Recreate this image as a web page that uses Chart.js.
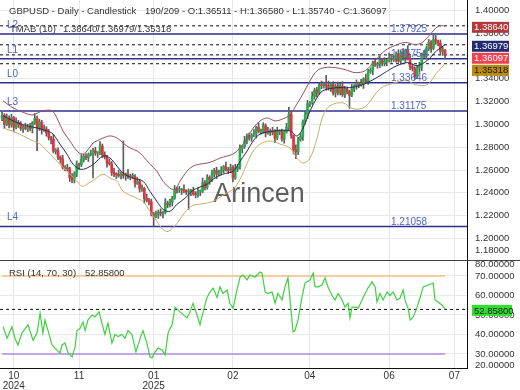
<!DOCTYPE html>
<html>
<head>
<meta charset="utf-8">
<script src="https://cdn.jsdelivr.net/npm/chart.js@4.4.1/dist/chart.umd.min.js"></script>
<style>
  html, body { margin: 0; padding: 0; background: #fff; }
  #wrap { position: relative; width: 520px; height: 390px; overflow: hidden; }
  canvas { position: absolute; left: 0; }
  #priceCv { top: 0; }
  #rsiCv { top: 260px; }
</style>
</head>
<body>
<div id="wrap">
  <canvas id="priceCv" width="520" height="260"></canvas>
  <canvas id="rsiCv" width="520" height="130"></canvas>
</div>
<script>
// candles, one per trading day (index 0 = first bar on the left)
const opens = [1.3050,1.3080,1.3000,1.3056,1.2998,1.3060,1.2975,1.3017,1.2998,1.2965,
1.2977,1.2965,1.2980,1.2965,1.3015,1.3055,1.2965,1.3020,1.2950,1.2960,
1.2925,1.2885,1.2870,1.2765,1.2770,1.2710,1.2695,1.2620,1.2620,1.2610,
1.2535,1.2515,1.2565,1.2650,1.2645,1.2695,1.2720,1.2710,1.2735,1.2740,
1.2770,1.2750,1.2750,1.2810,1.2735,1.2715,1.2660,1.2655,1.2580,1.2565,
1.2560,1.2550,1.2565,1.2550,1.2565,1.2540,1.2545,1.2545,1.2485,1.2500,
1.2435,1.2440,1.2350,1.2335,1.2320,1.2215,1.2195,1.2205,1.2230,1.2220,
1.2230,1.2310,1.2295,1.2320,1.2355,1.2430,1.2425,1.2425,1.2430,1.2415,
1.2410,1.2410,1.2415,1.2390,1.2385,1.2415,1.2415,1.2490,1.2450,1.2535,
1.2510,1.2565,1.2595,1.2565,1.2580,1.2600,1.2630,1.2605,1.2595,1.2625,
1.2530,1.2615,1.2630,1.2790,1.2805,1.2855,1.2900,1.2880,1.2905,1.2920,
1.2975,1.2940,1.2940,1.2990,1.2925,1.2940,1.2930,1.2945,1.2880,1.2935,
1.2935,1.2870,1.2935,1.2975,1.3090,1.2900,1.2780,1.2760,1.2870,1.2895,
1.3025,1.3090,1.3180,1.3190,1.3245,1.3300,1.3275,1.3345,1.3340,1.3350,
1.3340,1.3315,1.3350,1.3275,1.3335,1.3280,1.3335,1.3260,1.3305,1.3285,
1.3255,1.3315,1.3330,1.3360,1.3350,1.3355,1.3400,1.3375,1.3465,1.3470,
1.3540,1.3520,1.3525,1.3565,1.3535,1.3555,1.3560,1.3585,1.3570,1.3580,
1.3620,1.3555,1.3625,1.3585,1.3650,1.3580,1.3505,1.3490,1.3415,1.3495,
1.3510,1.3610,1.3600,1.3665,1.3720,1.3665,1.3745,1.3730,1.3710,1.3640,
1.36511];
const highs = [1.3105,1.3095,1.3091,1.3076,1.3090,1.3070,1.3057,1.3035,1.3023,1.2992,
1.3012,1.3000,1.3010,1.3025,1.3095,1.3073,1.3045,1.3035,1.2995,1.2980,
1.2955,1.2895,1.2910,1.2788,1.2795,1.2725,1.2730,1.2640,1.2650,1.2625,
1.2570,1.2585,1.2680,1.2660,1.2735,1.2738,1.2745,1.2750,1.2775,1.2790,
1.2800,1.2760,1.2850,1.2828,1.2760,1.2730,1.2695,1.2675,1.2615,1.2575,
1.2600,1.2585,1.2855,1.2575,1.2605,1.2563,1.2570,1.2560,1.2535,1.2520,
1.2470,1.2450,1.2390,1.2353,1.2345,1.2230,1.2240,1.2250,1.2260,1.2240,
1.2350,1.2328,1.2345,1.2370,1.2465,1.2450,1.2455,1.2440,1.2470,1.2428,
1.2435,1.2430,1.2450,1.2410,1.2445,1.2425,1.2530,1.2508,1.2560,1.2550,
1.2600,1.2615,1.2625,1.2600,1.2630,1.2640,1.2670,1.2623,1.2650,1.2640,
1.2650,1.2650,1.2820,1.2815,1.2895,1.2918,1.2925,1.2920,1.2955,1.2985,
1.3015,1.2958,1.3015,1.3005,1.2975,1.2960,1.2975,1.2955,1.2975,1.2953,
1.2960,1.2950,1.3010,1.3150,1.3120,1.2910,1.2820,1.2888,1.2920,1.3040,
1.3110,1.3210,1.3200,1.3285,1.3318,1.3325,1.3360,1.3380,1.3370,1.3430,
1.3380,1.3368,1.3375,1.3350,1.3370,1.3365,1.3375,1.3335,1.3330,1.3300,
1.3350,1.3350,1.3390,1.3370,1.3395,1.3410,1.3440,1.3483,1.3495,1.3555,
1.3575,1.3545,1.3595,1.3575,1.3585,1.3570,1.3625,1.3603,1.3605,1.3635,
1.3655,1.3645,1.3665,1.3660,1.3690,1.3598,1.3530,1.3505,1.3515,1.3545,
1.3625,1.3650,1.3683,1.3745,1.3735,1.3790,1.3780,1.3740,1.3740,1.3676,
1.36580];
const lows = [1.3032,1.2965,1.2988,1.2970,1.2976,1.2935,1.2960,1.2973,1.2947,1.2930,
1.2953,1.2937,1.2943,1.2925,1.3000,1.2770,1.2947,1.2915,1.2938,1.2897,
1.2863,1.2830,1.2750,1.2740,1.2692,1.2660,1.2608,1.2592,1.2592,1.2500,
1.2490,1.2487,1.2543,1.2605,1.2630,1.2670,1.2692,1.2675,1.2723,1.2530,
1.2728,1.2710,1.2735,1.2710,1.2697,1.2625,1.2643,1.2552,1.2543,1.2525,
1.2538,1.2522,1.2528,1.2510,1.2525,1.2515,1.2527,1.2450,1.2473,1.2407,
1.2413,1.2310,1.2320,1.2295,1.2197,1.2106,1.2183,1.2177,1.2198,1.2180,
1.2215,1.2270,1.2277,1.2285,1.2343,1.2397,1.2403,1.2385,1.2400,1.2385,
1.2255,1.2375,1.2378,1.2357,1.2363,1.2375,1.2400,1.2425,1.2432,1.2475,
1.2498,1.2537,1.2525,1.2550,1.2558,1.2575,1.2590,1.2570,1.2577,1.2495,
1.2518,1.2587,1.2608,1.2750,1.2790,1.2830,1.2862,1.2852,1.2893,1.2880,
1.2925,1.2915,1.2922,1.2890,1.2913,1.2902,1.2908,1.2840,1.2865,1.2910,
1.2852,1.2835,1.2923,1.2947,1.2878,1.2740,1.2700,1.2735,1.2852,1.2860,
1.3003,1.3050,1.3155,1.3175,1.3220,1.3240,1.3263,1.3312,1.3318,1.3300,
1.3300,1.3290,1.3257,1.3240,1.3258,1.3258,1.3245,1.3235,1.3267,1.3140,
1.3243,1.3287,1.3308,1.3322,1.3335,1.3315,1.3360,1.3350,1.3447,1.3435,
1.3508,1.3492,1.3497,1.3513,1.3513,1.3515,1.3545,1.3545,1.3552,1.3545,
1.3543,1.3527,1.3563,1.3545,1.3565,1.3480,1.3468,1.3395,1.3400,1.3455,
1.3470,1.3585,1.3575,1.3647,1.3630,1.3653,1.3702,1.3690,1.3615,1.3605,
1.35740];
const closes = [1.3080,1.3000,1.3056,1.2998,1.3060,1.2975,1.3017,1.2998,1.2965,1.2977,
1.2965,1.2980,1.2965,1.3015,1.3055,1.2965,1.3020,1.2950,1.2960,1.2925,
1.2885,1.2870,1.2765,1.2770,1.2710,1.2695,1.2620,1.2620,1.2610,1.2535,
1.2515,1.2565,1.2650,1.2645,1.2695,1.2720,1.2710,1.2735,1.2740,1.2770,
1.2750,1.2750,1.2810,1.2735,1.2715,1.2660,1.2655,1.2580,1.2565,1.2560,
1.2550,1.2565,1.2550,1.2565,1.2540,1.2545,1.2545,1.2485,1.2500,1.2435,
1.2440,1.2350,1.2335,1.2320,1.2215,1.2195,1.2205,1.2230,1.2220,1.2230,
1.2310,1.2295,1.2320,1.2355,1.2430,1.2425,1.2425,1.2430,1.2415,1.2410,
1.2410,1.2415,1.2390,1.2385,1.2415,1.2415,1.2490,1.2450,1.2535,1.2510,
1.2565,1.2595,1.2565,1.2580,1.2600,1.2630,1.2605,1.2595,1.2625,1.2530,
1.2615,1.2630,1.2790,1.2805,1.2855,1.2900,1.2880,1.2905,1.2920,1.2975,
1.2940,1.2940,1.2990,1.2925,1.2940,1.2930,1.2945,1.2880,1.2935,1.2935,
1.2870,1.2935,1.2975,1.3090,1.2900,1.2780,1.2760,1.2870,1.2895,1.3025,
1.3090,1.3180,1.3190,1.3245,1.3300,1.3275,1.3345,1.3340,1.3350,1.3340,
1.3315,1.3350,1.3275,1.3335,1.3280,1.3335,1.3260,1.3305,1.3285,1.3255,
1.3315,1.3330,1.3360,1.3350,1.3355,1.3400,1.3375,1.3465,1.3470,1.3540,
1.3520,1.3525,1.3565,1.3535,1.3555,1.3560,1.3585,1.3570,1.3580,1.3620,
1.3555,1.3625,1.3585,1.3650,1.3580,1.3505,1.3490,1.3415,1.3495,1.3510,
1.3610,1.3600,1.3665,1.3720,1.3665,1.3745,1.3730,1.3710,1.3640,1.3651,
1.36097];

// TMAB bands, read at bar positions
const upX = [0.4,4.7,10.7,13.3,17.5,21.4,23.5,26.1,29.1,32.1,34.3,36.4,39.0,40.7,43.3,46.3,49.3,51.9,54.9,57.9,60.4,63.4,66.4,69.0,72.0,74.2,76.3,79.3,81.9,84.9,87.9,90.5,93.5,96.5,99.1,102.1,105.1,107.7,110.7,113.7,117.1,120.5,123.5,126.5,129.1,132.1,135.1,138.5,142.8,147.1,151.4,155.7,160.0,164.3,168.6,172.9,177.2,180.2,183.6,187.0,190.0];
const upY = [1.3207,1.3145,1.3093,1.3084,1.3119,1.3119,1.3057,1.2943,1.2855,1.2767,1.2740,1.2767,1.2837,1.2855,1.2881,1.2899,1.2881,1.2837,1.2793,1.2767,1.2723,1.2652,1.2590,1.2502,1.2441,1.2432,1.2502,1.2590,1.2634,1.2652,1.2661,1.2678,1.2705,1.2723,1.2740,1.2793,1.2881,1.2969,1.3031,1.3057,1.3031,1.3049,1.3084,1.3181,1.3269,1.3383,1.3471,1.3498,1.3498,1.3480,1.3454,1.3471,1.3559,1.3648,1.3692,1.3718,1.3700,1.3718,1.3789,1.3859,1.38640];
const midX = [0.4,4.7,10.7,15.0,19.3,21.8,24.8,27.8,30.4,33.4,36.4,39.8,43.3,46.3,49.3,51.9,56.1,60.4,63.4,66.4,69.0,72.0,75.0,78.4,81.9,87.9,90.5,94.7,99.1,102.1,105.1,107.7,110.7,117.1,123.5,126.5,129.1,132.1,135.1,137.6,143.6,149.2,155.7,162.1,167.7,173.7,178.0,182.3,186.5,190.0];
const midY = [1.3075,1.3031,1.2987,1.2969,1.2943,1.2916,1.2828,1.2740,1.2652,1.2608,1.2617,1.2661,1.2723,1.2705,1.2634,1.2573,1.2529,1.2502,1.2414,1.2326,1.2256,1.2238,1.2300,1.2352,1.2423,1.2476,1.2520,1.2564,1.2590,1.2678,1.2767,1.2855,1.2916,1.2943,1.2943,1.2899,1.2969,1.3119,1.3234,1.3295,1.3322,1.3322,1.3357,1.3427,1.3498,1.3542,1.3515,1.3559,1.3648,1.36979];
const loX = [0.4,6.4,13.3,16.3,19.3,23.5,27.8,32.1,34.3,36.4,39.8,43.3,46.3,49.3,51.9,57.9,60.4,63.4,66.4,69.0,71.2,75.0,78.4,81.9,84.9,90.5,94.7,99.1,102.1,105.1,107.7,110.7,114.9,119.2,123.5,126.5,129.1,132.1,135.1,137.6,140.6,146.2,150.5,155.7,162.1,168.6,173.7,177.2,182.3,186.5,190.0];
const loY = [1.2969,1.2925,1.2855,1.2828,1.2767,1.2678,1.2590,1.2502,1.2458,1.2476,1.2520,1.2564,1.2529,1.2502,1.2414,1.2352,1.2326,1.2238,1.2150,1.2079,1.2062,1.2132,1.2229,1.2291,1.2300,1.2326,1.2379,1.2432,1.2520,1.2661,1.2767,1.2828,1.2855,1.2828,1.2793,1.2705,1.2661,1.2705,1.2881,1.3075,1.3163,1.3189,1.3137,1.3154,1.3313,1.3366,1.3383,1.3348,1.3348,1.3454,1.35318];

// RSI (14), read at bar positions
const rsiX = [0.4,2.1,4.2,5.5,6.8,8.5,11.1,13.3,15.0,16.3,17.5,18.4,19.7,21.4,23.5,24.8,25.7,27.0,28.3,30.0,
31.3,32.1,33.4,34.7,35.6,36.8,38.6,39.8,41.6,42.8,44.1,45.4,47.1,48.4,49.7,51.4,52.7,54.0,55.7,57.4,
59.2,60.4,62.1,63.4,64.3,65.6,66.9,68.6,69.9,71.2,72.0,72.9,74.2,76.3,79.3,80.6,81.9,83.6,84.9,86.2,
87.9,89.2,90.5,92.2,93.5,94.7,96.5,97.7,99.1,100.7,102.1,103.3,105.1,106.3,108.5,109.8,110.6,111.5,112.8,114.0,
115.8,117.1,118.3,120.1,121.3,122.6,123.9,124.8,125.6,126.9,128.6,129.9,132.1,133.4,134.2,135.5,137.2,138.5,139.8,141.5,
142.8,144.1,145.8,147.1,148.4,149.2,150.1,151.4,152.7,154.4,155.7,156.9,158.7,160.0,160.8,162.1,163.4,165.1,166.4,167.7,
169.4,170.7,172.0,172.8,174.1,175.0,176.3,177.6,179.3,180.6,182.7,184.9,185.7,187.0,188.8,190.0];
const rsiY = [44,38,44,38,34.6,40.7,45,37,41,51,40.7,47.4,42,34.6,32,30.5,34.6,35.6,30.5,28.5,
33.6,42,43,46.4,42,47.4,50,49,51.6,45.8,40,45.8,35.6,40,38.9,40,38,42,40,31,
38,42,35.6,28.5,28,31,33,32,29.6,40.7,43,45,54,51.6,48.5,51.6,56,50,45,51.6,
59,61.8,63.8,59,64.4,61,62.8,56,53.5,62.8,69.5,70.5,68,70.5,69.5,71,72,71.5,61.8,61,
61.8,56,61,57.7,64.4,69,52.6,41.3,42,47.4,59,66.4,68,71.5,64.4,64.4,65.4,69,64.4,60,
57.7,61,57.7,54,56,48.5,54,54,53.5,57.7,61,63.8,67,64.4,56.7,61,57.7,61.8,60,61.8,
57.7,58.7,62.8,57.7,53.5,47.4,49,52.6,59,64.4,65.4,66.4,57.7,56.7,55,52.858];

// support / resistance levels
const levelNames = ['L2', 'L1', 'L0', 'L3', 'L4'];
const levelVals = [1.37925, 1.35754, 1.33646, 1.31175, 1.21058];

// axes
const monthIdx = [5, 33, 65, 99, 132, 166, 194];
const monthTop = ['10', '11', '01', '02', '04', '06', '07'];
const monthYear = ['2024', '', '2025', '', '', '', ''];
const priceTicks = [1.1899, 1.20, 1.22, 1.24, 1.26, 1.28, 1.30, 1.32, 1.34, 1.36, 1.38, 1.40];
const priceTickText = ['1.18000','1.20000','1.22000','1.24000','1.26000','1.28000','1.30000','1.32000','1.34000','1.36000','1.38000','1.40000'];
const rsiTicks = [24.1, 30, 40, 50, 60, 70, 76.15];
const rsiTickText = ['20.00000','30.00000','40.00000','50.00000','60.00000','70.00000','80.00000'];
const rsiUpper = 70, rsiLower = 30;

const FONT = "'Liberation Sans', Arial, sans-serif";
Chart.defaults.font.family = FONT;
Chart.defaults.color = '#333';
Chart.defaults.animation = false;

const X_MIN = -0.9, X_MAX = 199.4;
const last = closes.length - 1;
const rsiLast = rsiY[rsiY.length - 1];

function hLine(v, x0, x1) {
  return [{ x: x0, y: v }, { x: x1, y: v }];
}
function pts(xs, ys) {
  return xs.map((x, i) => ({ x: x, y: ys[i] }));
}
function fmt(v) { return v.toFixed(5); }

function xScale(extra) {
  return Object.assign({
    type: 'linear', min: X_MIN, max: X_MAX, offset: false,
    afterBuildTicks: s => { s.ticks = monthIdx.map(v => ({ value: v })); },
    grid: { color: '#e6e6e6', drawTicks: false, offset: false }
  }, extra);
}

function noPad(s) {
  s.paddingTop = 0; s.paddingBottom = 0; s.paddingLeft = 0; s.paddingRight = 0;
}

// ---------- price panel ----------
const bodyColors = closes.map((c, i) => c >= opens[i] ? '#25ad4e' : '#e5323d');

const priceDatasets = [
  {
    type: 'line', label: 'upper', data: pts(upX, upY),
    borderColor: '#95505a', borderWidth: 1, pointRadius: 0, tension: 0.35, order: 0
  },
  {
    type: 'line', label: 'middle', data: pts(midX, midY),
    borderColor: '#2c2c50', borderWidth: 1, pointRadius: 0, tension: 0.35, order: 0
  },
  {
    type: 'line', label: 'lower', data: pts(loX, loY),
    borderColor: '#c4b06a', borderWidth: 1, pointRadius: 0, tension: 0.35, order: 0
  },
  {
    type: 'bar', label: 'bodies',
    data: closes.map((c, i) => ({ x: i, y: [opens[i], c] })),
    backgroundColor: bodyColors, barThickness: 2, minBarLength: 1, grouped: false, order: 1
  },
  {
    type: 'bar', label: 'wicks',
    data: closes.map((c, i) => ({ x: i, y: [lows[i], highs[i]] })),
    backgroundColor: '#5c5c5c', barThickness: 1, grouped: false, order: 2
  }
];
levelVals.forEach(v => {
  priceDatasets.push({
    type: 'line', data: hLine(v, X_MIN, X_MAX),
    borderColor: '#2f3190', borderWidth: 1.6, pointRadius: 0, order: 4
  });
});
[upY[upY.length - 1], midY[midY.length - 1], closes[last], loY[loY.length - 1]].forEach(v => {
  priceDatasets.push({
    type: 'line', data: hLine(v, X_MIN, X_MAX),
    borderColor: '#111', borderWidth: 1, borderDash: [3, 3], pointRadius: 0, order: 3
  });
});

const priceDecor = {
  id: 'priceDecor',
  beforeDatasetsDraw(chart) {
    const ctx = chart.ctx;
    ctx.save();
    ctx.font = '27px ' + FONT;
    ctx.fillStyle = '#5e5e5e';
    ctx.textAlign = 'center';
    ctx.textBaseline = 'middle';
    ctx.fillText('Arincen', 259, 195);
    ctx.restore();
  },
  afterDatasetsDraw(chart) {
    const ctx = chart.ctx;
    const y = chart.scales.y;
    ctx.save();
    ctx.font = '9.5px ' + FONT;
    ctx.fillStyle = '#333';
    ctx.textAlign = 'left';
    ctx.textBaseline = 'middle';
    ctx.fillText('GBPUSD - Daily - Candlestick', 9, 11);
    ctx.fillText('190/209 - O:' + fmt(opens[last]) + ' - H:' + fmt(highs[last]) +
      ' - L:' + fmt(lows[last]) + ' - C:' + fmt(closes[last]), 145, 11);
    ctx.fillText('TMAB (10)', 10, 29);
    ctx.fillText(fmt(upY[upY.length - 1]) + '/' + fmt(midY[midY.length - 1]) + '/' +
      fmt(loY[loY.length - 1]), 63, 29);

    ctx.font = '10px ' + FONT;
    ctx.fillStyle = '#5064c8';
    ctx.textBaseline = 'alphabetic';
    levelVals.forEach((v, k) => {
      const py = y.getPixelForValue(v);
      ctx.fillText(levelNames[k], 7, py - 6);
      ctx.fillText(fmt(v), 391, py - 1.5);
    });
    ctx.restore();
  },
  afterDraw(chart) {
    const ctx = chart.ctx;
    const y = chart.scales.y;
    const badges = [
      { v: upY[upY.length - 1], bg: '#b3393c', fg: '#fff' },
      { v: midY[midY.length - 1], bg: '#222a72', fg: '#fff' },
      { v: closes[last], bg: '#ef4352', fg: '#fff' },
      { v: loY[loY.length - 1], bg: '#b88a10', fg: '#1a1a1a' }
    ];
    ctx.save();
    ctx.font = '9.5px ' + FONT;
    ctx.textAlign = 'left';
    ctx.textBaseline = 'middle';
    let prev = -100;
    badges.forEach(b => {
      const cy = Math.max(y.getPixelForValue(b.v) + 1.5, prev + 12);
      prev = cy;
      ctx.fillStyle = b.bg;
      ctx.fillRect(472, cy - 5.5, 37, 11);
      ctx.fillStyle = b.fg;
      ctx.fillText(fmt(b.v), 474, cy + 0.5);
    });
    ctx.restore();
  }
};

new Chart(document.getElementById('priceCv'), {
  type: 'bar',
  data: { datasets: priceDatasets },
  options: {
    responsive: false,
    events: [],
    layout: { padding: 0 },
    plugins: { legend: { display: false }, tooltip: { enabled: false } },
    scales: {
      x: xScale({
        ticks: { display: false },
        border: { display: false },
        afterFit: s => { s.height = 0; noPad(s); }
      }),
      y: {
        position: 'right', min: 1.18116, max: 1.40903,
        afterBuildTicks: s => { s.ticks = priceTicks.map(v => ({ value: v })); },
        afterFit: s => { s.width = 53; noPad(s); },
        ticks: {
          autoSkip: false, padding: 8, color: '#333', font: { size: 9.5 },
          callback: (v, i) => priceTickText[i]
        },
        grid: { color: c => c.index === 0 ? 'rgba(0,0,0,0)' : '#e8e8e8', drawTicks: false },
        border: { display: true, color: '#111', width: 1 }
      }
    }
  },
  plugins: [priceDecor]
});

// ---------- RSI panel ----------
const rsiDecor = {
  id: 'rsiDecor',
  afterDraw(chart) {
    const ctx = chart.ctx;
    const y = chart.scales.y;
    ctx.save();
    ctx.strokeStyle = '#444';
    ctx.lineWidth = 1;
    ctx.beginPath();
    ctx.moveTo(0, 0.5);
    ctx.lineTo(520, 0.5);
    ctx.stroke();

    ctx.font = '9.5px ' + FONT;
    ctx.fillStyle = '#333';
    ctx.textAlign = 'left';
    ctx.textBaseline = 'middle';
    ctx.fillText('RSI (14, 70, 30)', 9, 13);
    ctx.fillText(fmt(rsiLast), 85, 13);

    const cy = y.getPixelForValue(rsiLast) + 1;
    ctx.fillStyle = '#2fe02f';
    ctx.fillRect(472, cy - 5.5, 40, 11);
    ctx.fillStyle = '#111';
    ctx.fillText(fmt(rsiLast), 474, cy + 0.5);
    ctx.restore();
  }
};

new Chart(document.getElementById('rsiCv'), {
  type: 'line',
  data: {
    datasets: [
      {
        data: pts(rsiX, rsiY), borderColor: '#3ed13e', borderWidth: 1.2,
        pointRadius: 0, tension: 0, order: 0
      },
      {
        data: hLine(rsiUpper, 0, last), borderColor: '#f3c27e', borderWidth: 1.5,
        pointRadius: 0, order: 1
      },
      {
        data: hLine(rsiLower, 0, last), borderColor: '#b48be8', borderWidth: 1.5,
        pointRadius: 0, order: 1
      },
      {
        data: hLine(rsiLast, X_MIN, X_MAX), borderColor: '#111', borderWidth: 1,
        borderDash: [3, 3], pointRadius: 0, order: 2
      }
    ]
  },
  options: {
    responsive: false,
    events: [],
    layout: { padding: 0 },
    plugins: { legend: { display: false }, tooltip: { enabled: false } },
    scales: {
      x: xScale({
        ticks: {
          autoSkip: false, maxRotation: 0, padding: 3, color: '#333',
          font: { size: 10, lineHeight: 1 },
          callback: (v, i) => monthYear[i] ? [monthTop[i], monthYear[i]] : monthTop[i]
        },
        border: { display: true, color: '#111', width: 1 },
        afterFit: s => { s.height = 22; noPad(s); }
      }),
      y: {
        position: 'right', min: 22.8, max: 78.2,
        afterBuildTicks: s => { s.ticks = rsiTicks.map(v => ({ value: v })); },
        afterFit: s => { s.width = 53; noPad(s); },
        ticks: {
          autoSkip: false, padding: 8, color: '#333', font: { size: 9.5 },
          callback: (v, i) => rsiTickText[i]
        },
        grid: {
          color: c => (c.index === 0 || c.index === rsiTicks.length - 1) ? 'rgba(0,0,0,0)' : '#e8e8e8',
          drawTicks: false
        },
        border: { display: true, color: '#111', width: 1 }
      }
    }
  },
  plugins: [rsiDecor]
});
</script>
</body>
</html>
